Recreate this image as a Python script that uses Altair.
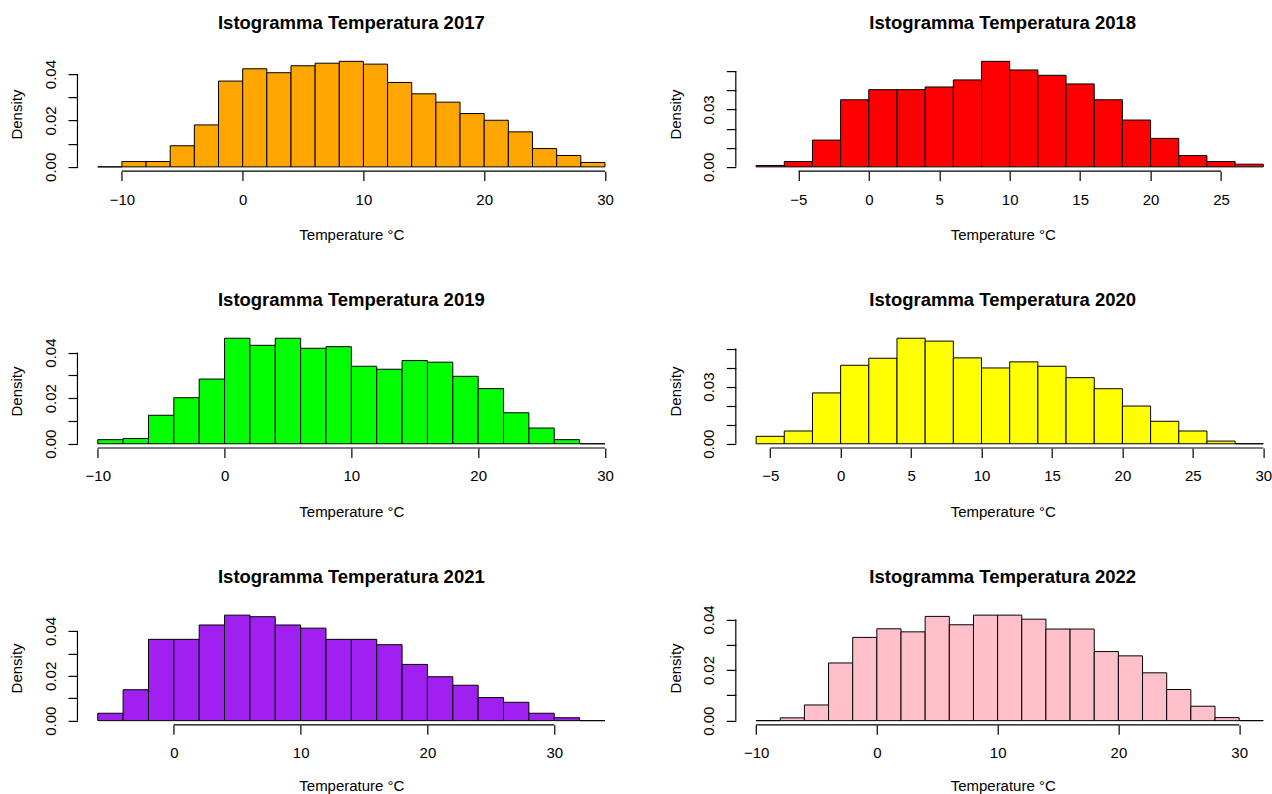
import altair as alt
import pandas as pd

FONT = "Liberation Sans"

# Histogram densities (bin width 2 °C), one list per year, starting at the first break
breaks_start = {2017: -12, 2018: -8, 2019: -10, 2020: -6, 2021: -6, 2022: -10}
density_2017 = [0, 0.0023, 0.0023, 0.0091, 0.0181, 0.0370, 0.0423, 0.0406, 0.0436, 0.0447,
                0.0455, 0.0443, 0.0364, 0.0315, 0.0279, 0.0230, 0.0201, 0.0151, 0.0079, 0.0049, 0.0019]
density_2018 = [0.0007, 0.0028, 0.0140, 0.0351, 0.0404, 0.0404, 0.0418, 0.0455, 0.0552,
                0.0507, 0.0479, 0.0434, 0.0351, 0.0245, 0.0149, 0.0059, 0.0028, 0.0014]
density_2019 = [0.0018, 0.0023, 0.0125, 0.0202, 0.0284, 0.0463, 0.0432, 0.0463, 0.0419, 0.0426,
                0.0340, 0.0327, 0.0365, 0.0358, 0.0296, 0.0242, 0.0136, 0.0069, 0.0018, 0]
density_2020 = [0.0039, 0.0067, 0.0267, 0.0412, 0.0449, 0.0554, 0.0539, 0.0451, 0.0398,
                0.0430, 0.0407, 0.0347, 0.0289, 0.0198, 0.0118, 0.0067, 0.0014, 0]
density_2021 = [0.0033, 0.0138, 0.0363, 0.0363, 0.0427, 0.0471, 0.0464, 0.0427, 0.0413, 0.0363,
                0.0363, 0.0339, 0.0251, 0.0196, 0.0158, 0.0103, 0.0082, 0.0033, 0.0013, 0]
density_2022 = [0, 0.0011, 0.0062, 0.0228, 0.0329, 0.0363, 0.0351, 0.0412, 0.0379, 0.0417, 0.0417,
                0.0401, 0.0362, 0.0362, 0.0273, 0.0256, 0.0189, 0.0123, 0.0057, 0.0012, 0]
BIN_WIDTH = 2

fill_colors = {2017: "#FFA500", 2018: "#FF0000", 2019: "#00FF00",
               2020: "#FFFF00", 2021: "#A020F0", 2022: "#FFC0CB"}

x_ticks = {
    2017: [-10, 0, 10, 20, 30],
    2018: [-5, 0, 5, 10, 15, 20, 25],
    2019: [-10, 0, 10, 20, 30],
    2020: [-5, 0, 5, 10, 15, 20, 25, 30],
    2021: [0, 10, 20, 30],
    2022: [-10, 0, 10, 20, 30],
}
y_ticks = {
    2017: [0, 0.01, 0.02, 0.03, 0.04],
    2018: [0, 0.01, 0.02, 0.03, 0.04, 0.05],
    2019: [0, 0.01, 0.02, 0.03, 0.04],
    2020: [0, 0.01, 0.02, 0.03, 0.04, 0.05],
    2021: [0, 0.01, 0.02, 0.03, 0.04],
    2022: [0, 0.01, 0.02, 0.03, 0.04],
}
# every n-th hundredth gets a printed label
y_label_step = {2017: 2, 2018: 3, 2019: 2, 2020: 3, 2021: 2, 2022: 2}

densities = {2017: density_2017, 2018: density_2018, 2019: density_2019,
             2020: density_2020, 2021: density_2021, 2022: density_2022}

# the top "0.04" label of 2022 reaches above the plot, so its title needs less offset
title_offset = {2017: 9.3, 2018: 9.3, 2019: 9.3, 2020: 9.3, 2021: 9.3, 2022: 3.3}
# x-axis title distance below the plot; the last row sits a little higher to fit the page
x_title_y = {2017: 68.7, 2018: 68.7, 2019: 68.7, 2020: 68.7, 2021: 65.5, 2022: 65.5}

FULL_W = 548
H = 114


def histogram(year, width):
    dens = densities[year]
    first = breaks_start[year]
    lo = [first + BIN_WIDTH * i for i in range(len(dens))]
    df = pd.DataFrame({"lo": lo, "hi": [v + BIN_WIDTH for v in lo], "density": dens})

    span = BIN_WIDTH * len(dens)
    x0 = first - 0.04 * span
    x1 = first + span + 0.04 * span
    if width < FULL_W:
        x1 = x0 + (x1 - x0) * width / FULL_W
    top = max(dens)
    y0, y1 = -0.04 * top, 1.04 * top
    xs = alt.Scale(domain=[x0, x1], nice=False, zero=False)
    ys = alt.Scale(domain=[y0, y1], nice=False, zero=False)

    xt, yt = x_ticks[year], y_ticks[year]
    step = y_label_step[year]

    x_axis = alt.Axis(
        values=xt, domain=False, grid=False, tickSize=9.5, tickColor="black", tickWidth=1.2,
        labelFont=FONT, labelFontSize=15, labelColor="black", labelPadding=11.5,
        labelFlush=False, labelOverlap=False, labelBound=False, format="d",
        title="Temperature °C", titleFont=FONT, titleFontSize=15, titleFontWeight="normal",
        titleColor="black", titleX=width / 2, titleY=x_title_y[year], titleAlign="center",
        titleBaseline="alphabetic",
    )
    y_axis = alt.Axis(
        values=yt, domain=False, grid=False, tickSize=9.5, tickColor="black", tickWidth=1.2,
        labelFont=FONT, labelFontSize=15, labelColor="black", labelPadding=12.5,
        labelAngle=270, labelAlign="center", labelBaseline="alphabetic",
        labelFlush=False, labelOverlap=False, labelBound=False,
        labelExpr=f"round(datum.value * 100) % {step} == 0 ? format(datum.value, '.2f') : ''",
        title="Density", titleFont=FONT, titleFontSize=15, titleFontWeight="normal",
        titleColor="black", titleAngle=270, titleX=-55.8, titleY=H / 2,
        titleAlign="center", titleBaseline="alphabetic",
    )

    bars = alt.Chart(df).mark_rect(
        fill=fill_colors[year], stroke="black", strokeWidth=1
    ).encode(
        x=alt.X("lo:Q", scale=xs, axis=x_axis),
        x2="hi:Q",
        y=alt.Y("density:Q", scale=ys, axis=y_axis),
        y2=alt.datum(0),
    )

    # R-style axis lines that run only from the first to the last tick
    x_line = alt.Chart(pd.DataFrame({"a": [xt[0]], "b": [xt[-1]], "y": [y0]})).mark_rule(
        color="black", strokeWidth=1.2
    ).encode(
        x=alt.X("a:Q", scale=xs, axis=x_axis),
        x2="b:Q",
        y=alt.Y("y:Q", scale=ys, axis=y_axis),
    )
    y_line = alt.Chart(pd.DataFrame({"a": [yt[0]], "b": [yt[-1]], "x": [x0]})).mark_rule(
        color="black", strokeWidth=1.2
    ).encode(
        y=alt.Y("a:Q", scale=ys, axis=y_axis),
        y2="b:Q",
        x=alt.X("x:Q", scale=xs, axis=x_axis),
    )

    return alt.layer(bars, x_line, y_line).properties(
        width=width,
        height=H,
        title=alt.TitleParams(
            text=f"Istogramma Temperatura {year}", font=FONT, fontSize=18.5,
            fontWeight="bold", color="black", anchor="middle", frame="group",
            baseline="alphabetic", offset=title_offset[year],
        ),
    )


RIGHT_W = 534
panels = []
for left_year, right_year in [(2017, 2018), (2019, 2020), (2021, 2022)]:
    panels.append(histogram(left_year, FULL_W))
    panels.append(histogram(right_year, RIGHT_W))

chart = alt.concat(
    *panels, columns=2, spacing={"row": 163, "column": 110.6}, bounds="flush"
).properties(
    padding={"left": 9.5, "top": 14, "right": 0, "bottom": 0},
    background="white",
).configure_view(stroke=None)

chart.save("out.html", embed_options={"renderer": "svg", "actions": False})
